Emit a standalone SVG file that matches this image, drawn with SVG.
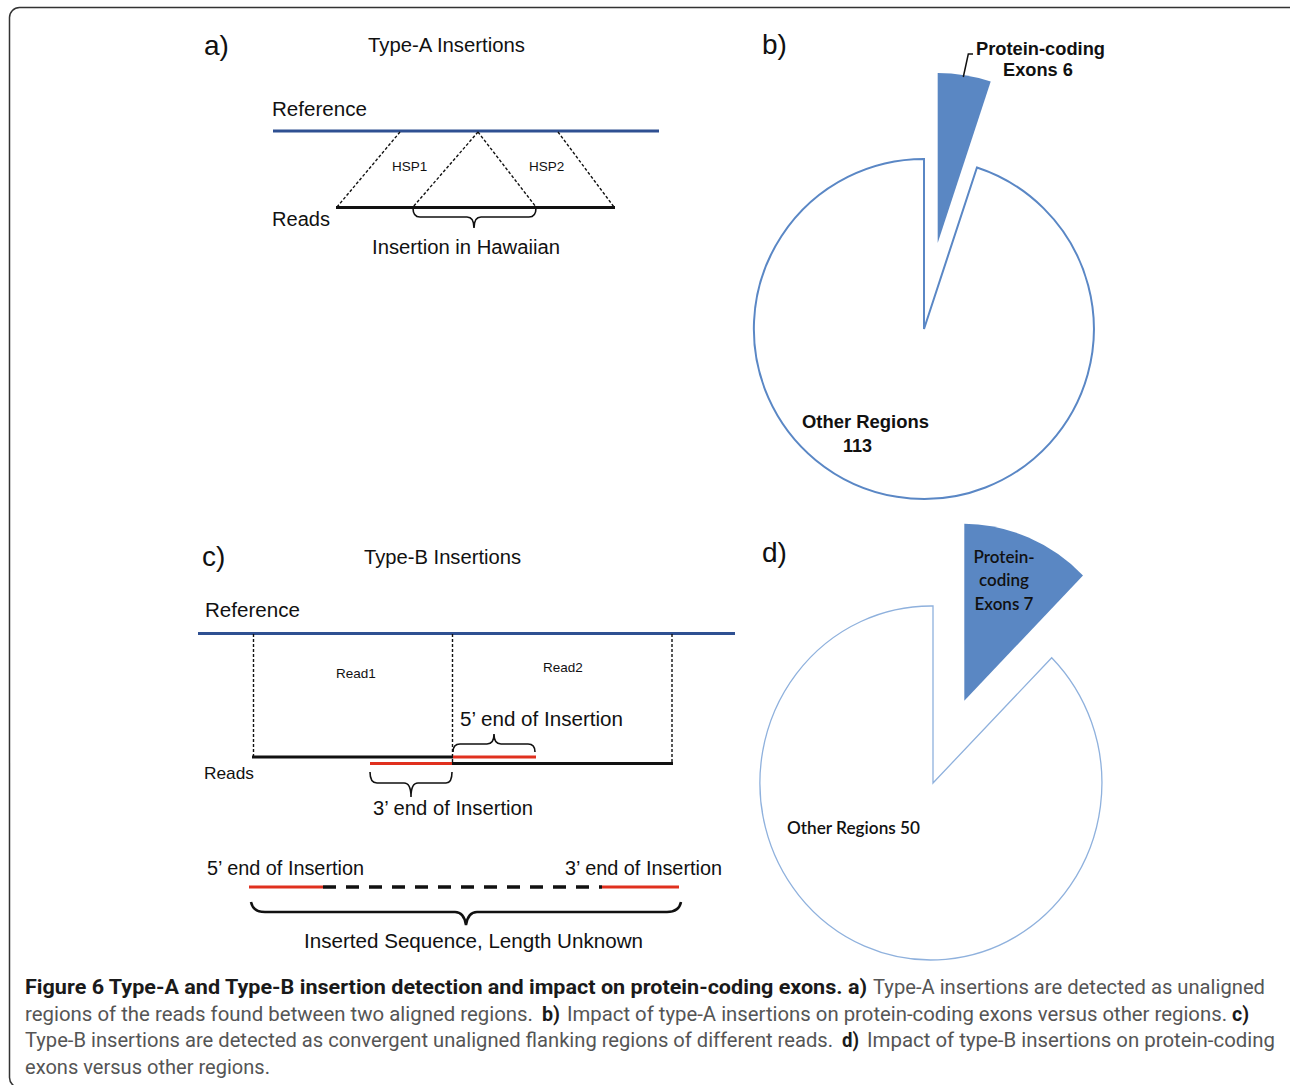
<svg xmlns="http://www.w3.org/2000/svg" width="1290" height="1085" viewBox="0 0 1290 1085">
<style>
.t{font-family:"Liberation Sans",Arial,sans-serif;fill:#111}
.lbl{font-size:20px}
.sm{font-size:13.5px}
.big{font-size:28px}
.bb{font-family:"Liberation Sans",Arial,sans-serif;font-weight:bold;font-size:18px;fill:#111}
.cal{font-family:Lato,"Open Sans",sans-serif;font-size:17px;fill:#111;font-weight:600}
.ref{stroke:#2F5092;stroke-width:3;fill:none}
.read{stroke:#111;stroke-width:3;fill:none}
.red{stroke:#E0301E;stroke-width:3;fill:none}
.dash{stroke:#111;stroke-width:1.4;stroke-dasharray:3 2;fill:none}
.brace{stroke:#111;stroke-width:1.6;fill:none}
.cap{font-family:"Liberation Sans Narrow","Roboto",sans-serif;font-size:19.5px}
.capb{font-weight:bold;fill:#1a1a1a}
.capr{fill:#555}
</style>
<rect x="9.5" y="7.5" width="1300" height="1080" rx="10" fill="none" stroke="#333" stroke-width="1.5"/>

<g id="panel-a">
<text class="t big" x="204" y="55">a)</text>
<text class="t lbl" x="368" y="52" textLength="157" lengthAdjust="spacingAndGlyphs">Type-A Insertions</text>
<text class="t lbl" x="272" y="116" textLength="95" lengthAdjust="spacingAndGlyphs">Reference</text>
<line class="ref" x1="273" y1="131" x2="659" y2="131"/>
<g id="a-connectors">
<line class="dash" x1="400" y1="132" x2="337" y2="207"/>
<line class="dash" x1="478" y1="132" x2="413" y2="207"/>
<line class="dash" x1="478" y1="132" x2="536" y2="207"/>
<line class="dash" x1="558" y1="132" x2="614" y2="207"/>
</g>
<text class="t sm" x="392" y="171">HSP1</text>
<text class="t sm" x="529" y="171">HSP2</text>
<line class="read" x1="336" y1="207.5" x2="615" y2="207.5"/>
<text class="t lbl" x="272" y="226" textLength="58" lengthAdjust="spacingAndGlyphs">Reads</text>
<path class="brace" d="M413,208 Q413,217 420,217 L467,217 Q474,217 474,228 Q474,217 481,217 L529,217 Q536,217 536,208"/>
<text class="t lbl" x="372" y="254" textLength="188" lengthAdjust="spacingAndGlyphs">Insertion in Hawaiian</text>
</g>

<g id="panel-b">
<text class="t big" x="762" y="54">b)</text>
<path id="b-other" d="M924,329 L976.95,167.5 A170,170 0 1,1 924,159 Z" fill="#fff" stroke="#5A87C5" stroke-width="2"/>
<path id="b-exons" d="M937.7,243.1 L937.7,73.1 A170,170 0 0,1 990.7,81.6 Z" fill="#5A87C3"/>
<polyline points="963.3,77 968.3,54 973,54" fill="none" stroke="#111" stroke-width="1.5"/>
<text class="bb" x="976" y="55" textLength="129" lengthAdjust="spacingAndGlyphs">Protein-coding</text>
<text class="bb" x="1003" y="76" textLength="70" lengthAdjust="spacingAndGlyphs">Exons 6</text>
<text class="bb" x="802" y="428" textLength="127" lengthAdjust="spacingAndGlyphs">Other Regions</text>
<text class="bb" x="843" y="452" textLength="29" lengthAdjust="spacingAndGlyphs">113</text>
</g>

<g id="panel-c">
<text class="t big" x="202" y="566">c)</text>
<text class="t lbl" x="364" y="564" textLength="157" lengthAdjust="spacingAndGlyphs">Type-B Insertions</text>
<text class="t lbl" x="205" y="617" textLength="95" lengthAdjust="spacingAndGlyphs">Reference</text>
<line class="ref" x1="198" y1="633.5" x2="735" y2="633.5"/>
<g id="c-connectors">
<line class="dash" x1="253.5" y1="634" x2="253.5" y2="757"/>
<line class="dash" x1="452.5" y1="634" x2="452.5" y2="763"/>
<line class="dash" x1="672" y1="634" x2="672" y2="763"/>
</g>
<text class="t sm" x="336" y="678" font-size="13">Read1</text>
<text class="t sm" x="543" y="672" font-size="13">Read2</text>
<line class="read" x1="252" y1="757" x2="453" y2="757"/>
<line class="red" x1="453" y1="757" x2="536" y2="757"/>
<line class="red" x1="370" y1="763.5" x2="453" y2="763.5"/>
<line class="read" x1="452" y1="763.5" x2="673" y2="763.5"/>
<path class="brace" d="M453,752 Q453,744 460,744 L487,744 Q494,744 494,734 Q494,744 501,744 L528,744 Q535,744 535,752"/>
<text class="t lbl" x="460" y="726" textLength="163" lengthAdjust="spacingAndGlyphs">5’ end of Insertion</text>
<text class="t" x="204" y="779" font-size="17" textLength="50" lengthAdjust="spacingAndGlyphs">Reads</text>
<path class="brace" d="M370,772 Q370,783 377,783 L404,783 Q411,783 411,797 Q411,783 418,783 L446,783 Q452,783 452,772"/>
<text class="t lbl" x="373" y="815" textLength="160" lengthAdjust="spacingAndGlyphs">3’ end of Insertion</text>
<text class="t lbl" x="207" y="875" textLength="157" lengthAdjust="spacingAndGlyphs">5’ end of Insertion</text>
<text class="t lbl" x="565" y="875" textLength="157" lengthAdjust="spacingAndGlyphs">3’ end of Insertion</text>
<line class="red" x1="249" y1="887" x2="323" y2="887"/>
<line x1="323" y1="887" x2="602" y2="887" stroke="#111" stroke-width="3.5" stroke-dasharray="13 10"/>
<line class="red" x1="602" y1="887" x2="679" y2="887"/>
<path d="M251,902 Q253,912 265,912 L455,912 Q464,912 466,925 Q468,912 477,912 L667,912 Q679,912 681,902" fill="none" stroke="#111" stroke-width="2.5"/>
<text class="t lbl" x="304" y="948" textLength="339" lengthAdjust="spacingAndGlyphs">Inserted Sequence, Length Unknown</text>
</g>

<g id="panel-d">
<text class="t big" x="762" y="562">d)</text>
<path id="d-other" d="M933,783 L1051.7,657.7 A171,177 0 1,1 933,606 Z" fill="#fff" stroke="#8FB1DD" stroke-width="1.3"/>
<path id="d-exons" d="M964.3,700.7 L964.3,523.7 A171,177 0 0,1 1083,575.4 Z" fill="#5A87C3"/>
<text class="cal" x="1004" y="563" text-anchor="middle">Protein-</text>
<text class="cal" x="1004" y="586" text-anchor="middle">coding</text>
<text class="cal" x="1004" y="610" text-anchor="middle">Exons 7</text>
<text class="cal" x="787" y="834" textLength="133" lengthAdjust="spacingAndGlyphs">Other Regions 50</text>
</g>

<g id="caption">
<text class="cap capb" x="25" y="994" textLength="842" lengthAdjust="spacingAndGlyphs">Figure 6 Type-A and Type-B insertion detection and impact on protein-coding exons. a)</text>
<text class="cap capr" x="873" y="994" textLength="392" lengthAdjust="spacingAndGlyphs">Type-A insertions are detected as unaligned</text>
<text class="cap capr" x="25" y="1021" textLength="508" lengthAdjust="spacingAndGlyphs">regions of the reads found between two aligned regions.</text>
<text class="cap capb" x="542" y="1021" textLength="18" lengthAdjust="spacingAndGlyphs">b)</text>
<text class="cap capr" x="567" y="1021" textLength="660" lengthAdjust="spacingAndGlyphs">Impact of type-A insertions on protein-coding exons versus other regions.</text>
<text class="cap capb" x="1232" y="1021" textLength="17" lengthAdjust="spacingAndGlyphs">c)</text>
<text class="cap capr" x="25" y="1047" textLength="808" lengthAdjust="spacingAndGlyphs">Type-B insertions are detected as convergent unaligned flanking regions of different reads.</text>
<text class="cap capb" x="842" y="1047" textLength="17" lengthAdjust="spacingAndGlyphs">d)</text>
<text class="cap capr" x="867" y="1047" textLength="408" lengthAdjust="spacingAndGlyphs">Impact of type-B insertions on protein-coding</text>
<text class="cap capr" x="25" y="1074" textLength="245" lengthAdjust="spacingAndGlyphs">exons versus other regions.</text>
</g>
</svg>
